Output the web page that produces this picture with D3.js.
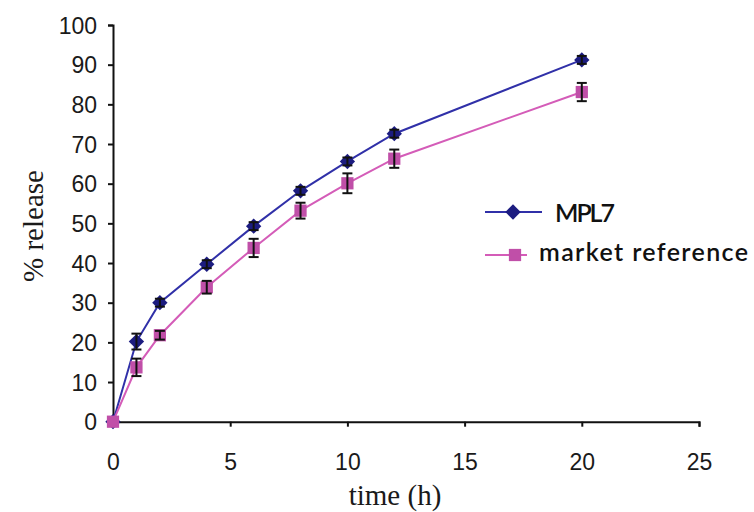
<!DOCTYPE html>
<html>
<head>
<meta charset="utf-8">
<script src="https://cdn.jsdelivr.net/npm/d3@7"></script>
<style>
  body { margin: 0; background: #fff; }
  svg { display: block; }
</style>
</head>
<body>
<svg id="chart" width="754" height="512"></svg>
<script>
// values
const times = [0, 1, 2, 4, 6, 8, 10, 12, 20];
const mpl7 = [0, 20.2, 30.0, 39.7, 49.3, 58.2, 65.6, 72.6, 91.2];
const mpl7Err = [0, 2.0, 1.0, 1.0, 1.0, 1.0, 1.0, 1.0, 1.0];
const market = [0, 13.7, 21.8, 33.9, 43.8, 53.2, 60.1, 66.3, 83.1];
const marketErr = [0, 2.2, 1.1, 1.6, 2.3, 2.0, 2.5, 2.3, 2.3];
const xTicks = [0, 5, 10, 15, 20, 25];
const yTicks = [0, 10, 20, 30, 40, 50, 60, 70, 80, 90, 100];
const seriesNames = ['MPL7', 'market reference'];

const svg = d3.select('#chart');

const xScale = d3.scaleLinear().domain([0, 25]).range([113, 699]);
const yScale = d3.scaleLinear().domain([0, 100]).range([421.7, 25]);

const tickFont = '"Liberation Sans", Arial, sans-serif';
const titleFont = '"Liberation Serif", "Times New Roman", serif';

// axes
const xAxis = d3.axisBottom(xScale).tickValues(xTicks).tickSize(5).tickPadding(10);
const yAxis = d3.axisLeft(yScale).tickValues(yTicks).tickSize(5).tickPadding(11);

const gx = svg.append('g')
    .attr('transform', `translate(0,${yScale(0)})`)
    .call(xAxis);
gx.selectAll('text')
    .attr('font-family', tickFont)
    .attr('font-size', 23)
    .attr('fill', '#1a1a1a')
    .attr('dy', null)
    .attr('y', 48);

const gy = svg.append('g')
    .attr('transform', `translate(${xScale(0)},0)`)
    .call(yAxis);
gy.selectAll('text')
    .attr('font-family', tickFont)
    .attr('font-size', 23)
    .attr('fill', '#1a1a1a')
    .attr('dy', '0.36em');

svg.selectAll('.domain, .tick line')
    .attr('stroke', '#111')
    .attr('stroke-width', 2);

// axis titles
svg.append('text')
    .attr('x', 395)
    .attr('y', 505)
    .attr('text-anchor', 'middle')
    .attr('font-family', titleFont)
    .attr('font-size', 29)
    .attr('fill', '#1a1a1a')
    .text('time (h)');

svg.append('text')
    .attr('transform', 'translate(43,226) rotate(-90)')
    .attr('text-anchor', 'middle')
    .attr('font-family', titleFont)
    .attr('font-size', 29)
    .attr('fill', '#1a1a1a')
    .text('% release');

const series = [
    { name: seriesNames[0], vals: mpl7, err: mpl7Err, line: '#3030a8', fill: '#1c1c80', symbol: d3.symbolDiamond2, size: 150 },
    { name: seriesNames[1], vals: market, err: marketErr, line: '#d45cb8', fill: '#c04fa8', symbol: d3.symbolSquare, size: 150 }
];

const line = d3.line()
    .x(d => xScale(d.t))
    .y(d => yScale(d.v));

series.forEach(s => {
    const pts = times.map((t, i) => ({ t: t, v: s.vals[i], e: s.err[i] }));

    svg.append('path')
        .datum(pts)
        .attr('fill', 'none')
        .attr('stroke', s.line)
        .attr('stroke-width', 2)
        .attr('d', line);

    svg.append('g').selectAll('path')
        .data(pts)
        .join('path')
        .attr('transform', d => `translate(${xScale(d.t)},${yScale(d.v)})`)
        .attr('fill', s.fill)
        .attr('d', d3.symbol().type(s.symbol).size(s.size));

    const eb = svg.append('g').selectAll('g')
        .data(pts.filter(d => d.e > 0))
        .join('g')
        .attr('stroke', '#111')
        .attr('stroke-width', 2);
    eb.append('line')
        .attr('x1', d => xScale(d.t)).attr('x2', d => xScale(d.t))
        .attr('y1', d => yScale(d.v - d.e)).attr('y2', d => yScale(d.v + d.e));
    eb.append('line')
        .attr('x1', d => xScale(d.t) - 5).attr('x2', d => xScale(d.t) + 5)
        .attr('y1', d => yScale(d.v + d.e)).attr('y2', d => yScale(d.v + d.e));
    eb.append('line')
        .attr('x1', d => xScale(d.t) - 5).attr('x2', d => xScale(d.t) + 5)
        .attr('y1', d => yScale(d.v - d.e)).attr('y2', d => yScale(d.v - d.e));
});

// legend
const legendRows = [
    { y: 212, x2: 542, sx: 513, tx: 555, tw: 60, base: 222 },
    { y: 255, x2: 527, sx: 515, tx: 539, tw: 209, base: 261 }
];
series.forEach((s, i) => {
    const r = legendRows[i];
    const lg = svg.append('g');
    lg.append('line')
        .attr('x1', 485).attr('x2', r.x2)
        .attr('y1', r.y).attr('y2', r.y)
        .attr('stroke', s.line)
        .attr('stroke-width', 2);
    lg.append('path')
        .attr('transform', `translate(${r.sx},${r.y})`)
        .attr('fill', s.fill)
        .attr('d', d3.symbol().type(s.symbol).size(s.size));
    lg.append('text')
        .attr('x', r.tx)
        .attr('y', r.base)
        .attr('font-family', 'Lato, "Open Sans", sans-serif')
        .attr('font-size', 25)
        .attr('font-weight', 600)
        .attr('fill', '#111')
        .attr('textLength', r.tw)
        .attr('lengthAdjust', 'spacing')
        .text(s.name);
});
</script>
</body>
</html>
